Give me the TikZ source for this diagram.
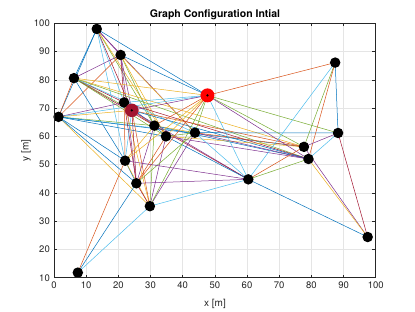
\documentclass[tikz,border=0pt]{standalone}
\usepackage{fontspec}
\setmainfont{TeX Gyre Heros}
\definecolor{mlblue}{RGB}{0,114,189}
\definecolor{mlorange}{RGB}{217,83,25}
\definecolor{mlyellow}{RGB}{237,177,32}
\definecolor{mlpurple}{RGB}{126,47,142}
\definecolor{mlgreen}{RGB}{119,172,48}
\definecolor{mlcyan}{RGB}{77,190,238}
\definecolor{mlred}{RGB}{162,20,47}
\definecolor{axisgray}{RGB}{38,38,38}
\tikzset{
  gridline/.style={black!10, line width=0.5pt},
  axisbox/.style={axisgray, line width=0.6pt},
  ticklabel/.style={font=\fontsize{9.5}{10}\selectfont, text=axisgray, inner sep=1pt},
  edge/.style={line width=0.5pt},
  agent/.style={circle, fill=black, minimum size=10.5pt, inner sep=0pt},
  leader/.style={circle, fill=red, minimum size=14pt, inner sep=0pt},
  follower/.style={circle, fill=mlred, minimum size=13.5pt, inner sep=0pt},
  core/.style={circle, fill=black, minimum size=2.5pt, inner sep=0pt}
}
\begin{document}
\begin{tikzpicture}[x=1pt,y=1pt]
\useasboundingbox (0,0) rectangle (415,312);
\fill[white] (0,0) rectangle (415,312);
% Plot area in data units
\begin{scope}[shift={(54pt,6pt)}, x=3.217pt, y=2.827pt]
% Grid
\foreach \gx in {10,20,...,90}
  \draw[gridline] (\gx,10) -- (\gx,100);
\foreach \gy in {20,30,...,90}
  \draw[gridline] (0,\gy) -- (100,\gy);

% Agent positions
\coordinate (n1) at (13.3,98.0);
\coordinate (n2) at (20.7,88.8);
\coordinate (n3) at (6.2,80.6);
\coordinate (n4) at (1.4,66.9);
\coordinate (n5) at (21.8,72.0);
\coordinate (n6) at (24.2,69.2);
\coordinate (n7) at (31.2,63.8);
\coordinate (n8) at (34.8,60.0);
\coordinate (n9) at (43.8,61.3);
\coordinate (n10) at (47.7,74.5);
\coordinate (n11) at (87.4,86.1);
\coordinate (n12) at (88.3,61.2);
\coordinate (n13) at (77.7,56.3);
\coordinate (n14) at (79.1,52.0);
\coordinate (n15) at (60.4,44.8);
\coordinate (n16) at (97.5,24.4);
\coordinate (n17) at (22.1,51.4);
\coordinate (n18) at (25.6,43.4);
\coordinate (n19) at (29.8,35.3);
\coordinate (n20) at (7.4,11.8);

% Links
\foreach \a/\b/\c in {
  n1/n2/mlpurple, n1/n3/mlblue, n1/n4/mlblue, n1/n5/mlcyan, n1/n6/mlred,
  n1/n7/mlgreen, n1/n8/mlyellow, n1/n9/mlpurple, n1/n10/mlblue, n1/n17/mlcyan,
  n2/n3/mlpurple, n2/n4/mlorange, n2/n5/mlred, n2/n6/mlpurple, n2/n7/mlgreen,
  n2/n8/mlyellow, n2/n9/mlyellow, n2/n10/mlblue, n2/n18/mlpurple,
  n3/n4/mlorange, n3/n5/mlred, n3/n6/mlgreen, n3/n7/mlred, n3/n8/mlgreen,
  n3/n9/mlcyan, n3/n10/mlyellow, n3/n17/mlblue, n3/n13/mlyellow, n3/n14/mlgreen,
  n4/n5/mlpurple, n4/n6/mlyellow, n4/n7/mlgreen, n4/n8/mlblue, n4/n9/mlcyan,
  n4/n10/mlcyan, n4/n17/mlblue, n4/n19/mlyellow, n4/n18/mlblue, n4/n13/mlblue,
  n5/n6/mlblue, n5/n10/mlcyan, n5/n17/mlorange, n5/n18/mlred, n5/n19/mlyellow,
  n5/n7/mlblue, n5/n14/mlred,
  n6/n10/mlpurple, n6/n7/mlorange, n6/n17/mlcyan, n6/n18/mlred, n6/n19/mlorange,
  n6/n15/mlpurple, n6/n13/mlorange, n6/n14/mlblue,
  n7/n10/mlorange, n7/n8/mlblue, n7/n9/mlyellow, n7/n18/mlpurple, n7/n19/mlgreen,
  n7/n17/mlyellow, n7/n14/mlblue, n7/n15/mlred,
  n8/n10/mlyellow, n8/n9/mlgreen, n8/n18/mlorange, n8/n19/mlpurple,
  n8/n13/mlyellow, n8/n14/mlpurple, n8/n15/mlblue,
  n9/n10/mlgreen, n9/n12/mlblue, n9/n13/mlorange, n9/n14/mlpurple,
  n9/n19/mlpurple, n9/n18/mlgreen, n9/n15/mlcyan,
  n10/n11/mlorange, n10/n12/mlgreen, n10/n13/mlgreen, n10/n14/mlpurple,
  n10/n15/mlcyan, n10/n17/mlyellow, n10/n18/mlorange, n10/n19/mlgreen,
  n11/n12/mlblue, n11/n13/mlgreen, n11/n14/mlorange, n11/n15/mlcyan,
  n12/n13/mlpurple, n12/n14/mlcyan, n12/n16/mlred,
  n13/n15/mlorange, n13/n16/mlpurple, n14/n15/mlgreen, n14/n16/mlyellow,
  n15/n16/mlblue, n15/n17/mlpurple, n15/n18/mlpurple, n15/n19/mlcyan,
  n17/n18/mlblue, n17/n19/mlyellow, n17/n20/mlorange,
  n18/n19/mlred, n18/n20/mlblue, n19/n20/mlcyan}
  \draw[edge, \c] (\a) -- (\b);

% Agents
\foreach \n in {n1,n2,n3,n4,n5,n7,n8,n9,n11,n12,n13,n14,n15,n16,n17,n18,n19,n20}
  \node[agent] (a\n) at (\n) {};
\node[leader] (lead) at (n10) {};
\node[core] (leadcore) at (n10) {};
\node[follower] (foll) at (n6) {};
\node[core] (follcore) at (n6) {};

% Axes box and ticks
\draw[axisbox] (0,10) rectangle (100,100);
\foreach \tx in {0,10,...,100} {
  \draw[axisbox] (\tx,10) -- ++(0,1.1);
  \draw[axisbox] (\tx,100) -- ++(0,-1.1);
  \node[ticklabel, below=2.5pt] at (\tx,10) {\tx};
}
\foreach \ty in {10,20,...,100} {
  \draw[axisbox] (0,\ty) -- ++(1,0);
  \draw[axisbox] (100,\ty) -- ++(-1,0);
  \node[ticklabel, left=3pt] at (0,\ty) {\ty};
}
\end{scope}

% Labels
\node[font=\fontsize{10}{11}\selectfont, text=axisgray] (xlab) at (215,8) {x [m]};
\node[font=\fontsize{10}{11}\selectfont, text=axisgray, rotate=90] (ylab) at (26,161.5) {y [m]};
\node[font=\bfseries\fontsize{10.5}{12}\selectfont] (title) at (215,297.5) {Graph Configuration Intial};
\end{tikzpicture}
\end{document}
